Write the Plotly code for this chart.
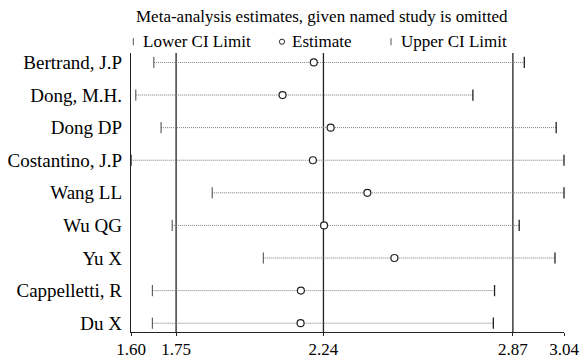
import plotly.graph_objects as go

studies = ["Bertrand, J.P", "Dong, M.H.", "Dong DP", "Costantino, J.P", "Wang LL",
           "Wu QG", "Yu X", "Cappelletti, R", "Du X"]
lower_ci = [1.676, 1.616, 1.700, 1.601, 1.870, 1.737, 2.040, 1.671, 1.671]
estimate = [2.208, 2.104, 2.264, 2.205, 2.386, 2.242, 2.476, 2.165, 2.164]
upper_ci = [2.908, 2.737, 3.014, 3.040, 3.040, 2.891, 3.010, 2.809, 2.805]
ref_lines = [1.75, 2.24, 2.87]
tick_vals = [1.60, 1.75, 2.24, 2.87, 3.04]
tick_text = ["1.60", "1.75", "2.24", "2.87", "3.04"]

FONT = "Liberation Serif, Times New Roman, serif"
W, H = 586, 363
L, R, T, B = 131, 22, 53, 31
pw, ph = W - L - R, H - T - B

fig = go.Figure()

# dotted CI lines
lx, ly = [], []
for s, lo, hi in zip(studies, lower_ci, upper_ci):
    lx += [lo, hi, None]
    ly += [s, s, None]
fig.add_trace(go.Scatter(x=lx, y=ly, mode="lines", showlegend=False,
                         line=dict(color="#7a7a7a", width=1, dash="1px,1px"),
                         hoverinfo="skip"))

fig.add_trace(go.Scatter(x=lower_ci, y=studies, mode="markers", name="Lower CI Limit",
                         cliponaxis=False, showlegend=False,
                         marker=dict(symbol="line-ns", size=8,
                                     line=dict(color="#444444", width=1))))
fig.add_trace(go.Scatter(x=upper_ci, y=studies, mode="markers", name="Upper CI Limit",
                         cliponaxis=False, showlegend=False,
                         marker=dict(symbol="line-ns", size=8,
                                     line=dict(color="#222222", width=1.3))))
fig.add_trace(go.Scatter(x=estimate, y=studies, mode="markers", name="Estimate",
                         cliponaxis=False, showlegend=False,
                         marker=dict(symbol="circle", size=7, color="white",
                                     line=dict(color="#222222", width=1.2))))

for v in ref_lines:
    fig.add_shape(type="line", xref="x", yref="paper", x0=v, x1=v, y0=0, y1=1,
                  line=dict(color="#222222", width=1.3), layer="below")

# legend (drawn as keys + text)
def px_x(p):
    return (p - L) / pw

def px_y(p):
    return (H - B - p) / ph

leg_y = 41.7
for kx in (133.3, 391.0):
    fig.add_shape(type="line", xref="paper", yref="paper",
                  x0=px_x(kx), x1=px_x(kx), y0=px_y(leg_y - 3.5), y1=px_y(leg_y + 3.5),
                  line=dict(color="#555555", width=1))
fig.add_shape(type="circle", xref="paper", yref="paper",
              x0=px_x(282 - 2.6), x1=px_x(282 + 2.6), y0=px_y(leg_y + 2.6), y1=px_y(leg_y - 2.6),
              line=dict(color="#222222", width=1))
for tx, txt in ((140.5, "Lower CI Limit"), (289.5, "Estimate"), (398.5, "Upper CI Limit")):
    fig.add_annotation(xref="paper", yref="paper", x=px_x(tx), y=px_y(leg_y),
                       xanchor="left", yanchor="middle", showarrow=False, text=txt,
                       font=dict(family=FONT, size=17, color="black"))

fig.add_annotation(xref="paper", yref="paper", x=px_x(322), y=px_y(17), xanchor="center",
                   yanchor="middle", showarrow=False,
                   text="Meta-analysis estimates, given named study is omitted",
                   font=dict(family=FONT, size=17, color="black"))

fig.update_layout(
    width=W, height=H,
    margin=dict(l=L, r=R, t=T, b=B, pad=0, autoexpand=False),
    paper_bgcolor="white", plot_bgcolor="white",
    showlegend=False,
    font=dict(family=FONT, color="black"),
    xaxis=dict(range=[1.60, 3.04], tickvals=tick_vals, ticktext=tick_text,
               automargin=False, ticklabelstandoff=-2,
               showgrid=False, zeroline=False, showline=True, linecolor="#222222",
               linewidth=1.3, ticks="outside", ticklen=3, tickcolor="#222222",
               tickwidth=1.3, tickfont=dict(family=FONT, size=17, color="black")),
    yaxis=dict(type="category", categoryorder="array", categoryarray=studies,
               automargin=False,
               range=[8.27, -0.29], showgrid=False, zeroline=False, showline=True,
               linecolor="#222222", linewidth=1.3, ticks="", ticklabelstandoff=4,
               tickfont=dict(family=FONT, size=19, color="black")),
)

fig.write_html("out.html")
